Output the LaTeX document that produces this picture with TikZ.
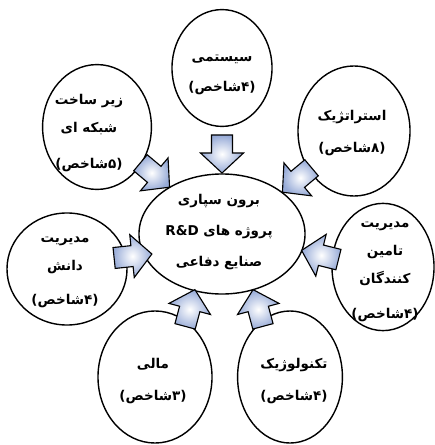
\documentclass[tikz,border=0pt]{standalone}
\usepackage{fontspec}
\usetikzlibrary{shapes.geometric}
\TeXXeTstate=1
\newfontfamily\arabicfont[Script=Arabic]{DejaVu Sans}
\newcommand{\fatxt}[1]{\beginR #1\endR}
\definecolor{arrowblue}{RGB}{150,170,215}
\tikzset{circ/.style={draw, ellipse, line width=1pt, inner sep=0pt}}
\tikzset{lbl/.style={align=center, inner sep=0pt,
  font=\arabicfont\bfseries\fontsize{9.6}{20}\selectfont}}
\tikzset{barrow/.style={draw, line width=0.8pt, line join=miter,
  shading=radial, inner color=white, outer color=arrowblue}}

\begin{document}
\begin{tikzpicture}[x=0.025cm,y=-0.025cm]
\useasboundingbox (0,0) rectangle (434,445);

% centre
\node[circ, minimum width=4.15cm, minimum height=3cm] (core) at (222,234) {};
\node[lbl] (core-t) at (219,232)
  {\fatxt{برون سپاری}\\[2pt]\fatxt{پروژه های \beginL R\&D\endL{}}\\[2pt]\fatxt{صنایع دفاعی}};

% outer ellipses
\node[circ, minimum width=2.5cm, minimum height=2.92cm] (sys) at (222,68) {};
\node[lbl] (sys-t) at (222,75) {\fatxt{سیستمی}\\[1pt]\fatxt{(۴شاخص)}};

\node[circ, minimum width=2.8cm, minimum height=3.25cm] (strat) at (354,131) {};
\node[lbl] (strat-t) at (352,133) {\fatxt{استراتژیک}\\[3pt]\fatxt{(۸شاخص)}};

\node[circ, minimum width=2.55cm, minimum height=3.18cm] (supply) at (383,267) {};
\node[lbl] (supply-t) at (385,272)
  {\fatxt{مدیریت}\\\fatxt{تامین}\\\fatxt{کنندگان}\\[5pt]\fatxt{(۴شاخص)}};

\node[circ, minimum width=2.62cm, minimum height=3.3cm] (tech) at (290,377) {};
\node[lbl] (tech-t) at (294,381) {\fatxt{تکنولوژیک}\\[3pt]\fatxt{(۴شاخص)}};

\node[circ, minimum width=2.85cm, minimum height=3.3cm] (fin) at (155,377) {};
\node[lbl] (fin-t) at (153,381) {\fatxt{مالی}\\[3pt]\fatxt{(۳شاخص)}};

\node[circ, minimum width=3cm, minimum height=2.8cm] (know) at (67,269) {};
\node[lbl] (know-t) at (65,272)
  {\fatxt{مدیریت}\\\fatxt{دانش}\\[4pt]\fatxt{(۴شاخص)}};

\node[circ, minimum width=2.72cm, minimum height=3.12cm] (infra) at (97,127) {};
\node[lbl] (infra-t) at (89,133)
  {\fatxt{زیر ساخت}\\\fatxt{شبکه ای}\\[5pt]\fatxt{(۵شاخص)}};

% block arrows towards the centre
\foreach \px/\py/\ang in {222/154/-90, 297/180/-140, 320/255/166,
    258/308/105, 190/308/75, 133/256/6, 155/175/-40}{
  \begin{scope}[shift={(\px,\py)}, rotate=\ang]
  \draw[barrow] (-19,-10.5) -- (-1,-10.5) -- (-1,-21.5) -- (19,0)
    -- (-1,21.5) -- (-1,10.5) -- (-19,10.5) -- cycle;
  \end{scope}
}

\end{tikzpicture}
\end{document}
